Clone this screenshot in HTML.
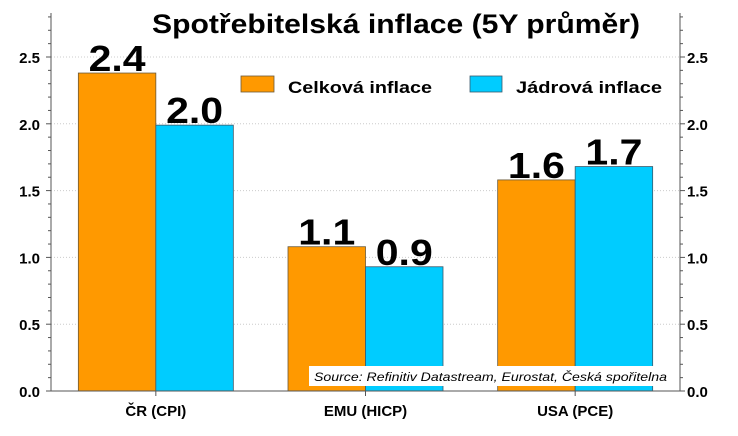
<!DOCTYPE html>
<html><head><meta charset="utf-8"><style>
body{margin:0;background:#fff;width:738px;height:431px;overflow:hidden;font-family:"Liberation Sans","DejaVu Sans",sans-serif;}
</style></head><body>
<svg id="chart" width="738" height="431" xmlns="http://www.w3.org/2000/svg" font-family="Liberation Sans, DejaVu Sans, sans-serif">
<g id="grid"></g><g id="bars"></g><g id="axes"></g>
<text x="152" y="33" font-size="27" font-weight="bold" textLength="488" lengthAdjust="spacingAndGlyphs">Spotřebitelská inflace (5Y průměr)</text>
<g>
<rect x="241" y="76" width="33" height="16" fill="#ff9900" stroke="#6b5a3a" stroke-width="0.8"/>
<text x="288" y="93" font-size="17" font-weight="bold" textLength="144" lengthAdjust="spacingAndGlyphs">Celková inflace</text>
<rect x="470" y="76" width="32" height="16" fill="#00ccff" stroke="#3a5a6b" stroke-width="0.8"/>
<text x="516" y="93" font-size="17" font-weight="bold" textLength="146" lengthAdjust="spacingAndGlyphs">Jádrová inflace</text>
</g>
<rect x="309" y="366" width="362" height="20" fill="#fff"/>
<text x="314" y="381" font-size="12" font-style="italic" textLength="353" lengthAdjust="spacingAndGlyphs">Source: Refinitiv Datastream, Eurostat, Česká spořitelna</text>
</svg>
<script>
const categories=["ČR (CPI)","EMU (HICP)","USA (PCE)"];
const celkova=[2.38,1.08,1.58];
const jadrova=[1.99,0.93,1.68];
const celkovaLabels=["2.4","1.1","1.6"];
const jadrovaLabels=["2.0","0.9","1.7"];
const yTicks=[0,0.5,1.0,1.5,2.0,2.5];
const NS="http://www.w3.org/2000/svg";
const X0=51,X1=680,Y0=391,PX=133.6;
const y=v=>Y0-v*PX;
const groupW=(X1-X0)/categories.length;
const cx=i=>X0+groupW*(i+0.5);
const barW=77.5;
function mk(t,a,p){const e=document.createElementNS(NS,t);for(const k in a)e.setAttribute(k,a[k]);p.appendChild(e);return e;}
const grid=document.getElementById('grid'),bars=document.getElementById('bars'),axes=document.getElementById('axes');
yTicks.forEach(v=>{
 if(v>0){const g=mk('line',{x1:X0,x2:X1,y1:y(v),y2:y(v),stroke:'#ccc','stroke-dasharray':'1,2'},grid);
 
 }
 const l=mk('text',{x:40,y:y(v)+6,'text-anchor':'end','font-size':15,'font-weight':'bold'},axes);l.textContent=v.toFixed(1);
 
 
 const r=mk('text',{x:687,y:y(v)+6,'font-size':15,'font-weight':'bold'},axes);r.textContent=v.toFixed(1);
 
 
});
for(let v=0;v<=2.85;v+=0.1){const major=Math.abs(v*2-Math.round(v*2))<1e-6;
 mk('line',{x1:X0-(major?5:3),x2:X0,y1:y(v),y2:y(v),stroke:'#555'},axes);
 mk('line',{x1:X1,x2:X1+(major?5:3),y1:y(v),y2:y(v),stroke:'#555'},axes);}
categories.forEach((c,i)=>{
 const o=mk('rect',{x:cx(i)-barW,y:y(celkova[i]),width:barW,height:celkova[i]*PX,fill:'#ff9900',stroke:'#6b5a3a','stroke-width':0.8},bars);
 
 
 const b=mk('rect',{x:cx(i),y:y(jadrova[i]),width:barW,height:jadrova[i]*PX,fill:'#00ccff',stroke:'#3a5a6b','stroke-width':0.8},bars);
 
 
 const t1=mk('text',{x:cx(i)-barW/2,y:y(celkova[i])-2,'text-anchor':'middle','font-size':36,'font-weight':'bold',textLength:57,lengthAdjust:'spacingAndGlyphs'},bars);t1.textContent=celkovaLabels[i];
 
 
 const t2=mk('text',{x:cx(i)+barW/2,y:y(jadrova[i])-2,'text-anchor':'middle','font-size':36,'font-weight':'bold',textLength:57,lengthAdjust:'spacingAndGlyphs'},bars);t2.textContent=jadrovaLabels[i];
 
 
 mk('line',{x1:cx(i),x2:cx(i),y1:Y0,y2:Y0+5,stroke:'#555'},axes);
 const cl=mk('text',{x:cx(i),y:416,'text-anchor':'middle','font-size':15,'font-weight':'bold'},axes);cl.textContent=c;
 
 
});
const la=mk('line',{x1:X0,x2:X0,y1:13,y2:Y0,stroke:'#555'},axes);


const ra=mk('line',{x1:X1,x2:X1,y1:13,y2:Y0,stroke:'#555'},axes);


const xa=mk('line',{x1:X0-4,x2:X1,y1:Y0,y2:Y0,stroke:'#555'},axes);


</script>
</body></html>
